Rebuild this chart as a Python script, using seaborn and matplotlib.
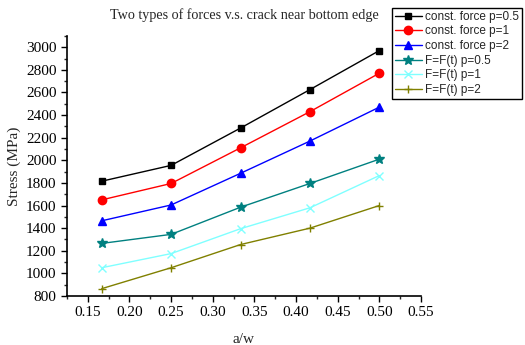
import matplotlib
matplotlib.use("Agg")
import matplotlib.pyplot as plt
import seaborn as sns
import pandas as pd
from matplotlib.ticker import MultipleLocator

x_vals = [1/6, 0.25, 1/3, 5/12, 0.5]
series_names = ["const. force p=0.5", "const. force p=1", "const. force p=2",
                "F=F(t) p=0.5", "F=F(t) p=1", "F=F(t) p=2"]
cf_p05 = [1815, 1955, 2285, 2625, 2970]
cf_p1 = [1650, 1795, 2110, 2430, 2770]
cf_p2 = [1465, 1605, 1885, 2170, 2470]
ft_p05 = [1265, 1345, 1585, 1795, 2010]
ft_p1 = [1050, 1175, 1395, 1580, 1865]
ft_p2 = [865, 1050, 1255, 1400, 1600]
all_vals = [cf_p05, cf_p1, cf_p2, ft_p05, ft_p1, ft_p2]

colors = ["#000000", "#ff0000", "#0000ff", "#008080", "#80ffff", "#808000"]
markers = ["s", "o", "^", "*", "x", "+"]
msizes = [5, 6, 6, 7, 6, 6]

rows = []
for name, vals in zip(series_names, all_vals):
    for xv, yv in zip(x_vals, vals):
        rows.append({"a/w": xv, "Stress": yv, "series": name})
df = pd.DataFrame(rows)

sns.set_style("ticks")
plt.rcParams["font.family"] = ["Liberation Serif", "DejaVu Serif"]

fig = plt.figure(figsize=(5.25, 3.45), dpi=100)
ax = fig.add_axes([0.1276, 0.142, 0.8019 - 0.1276, 0.896 - 0.142])

for name, c, m, ms in zip(series_names, colors, markers, msizes):
    sub = df[df["series"] == name]
    sns.lineplot(data=sub, x="a/w", y="Stress", ax=ax, color=c, marker=m,
                 markersize=ms, markeredgecolor=c, markerfacecolor=c,
                 markeredgewidth=1.0, linewidth=1.0, label=name, legend=False)

ax.set_xlim(0.125, 0.55)
ax.set_ylim(800, 3100)
ax.xaxis.set_minor_locator(MultipleLocator(0.025))
ax.yaxis.set_major_locator(MultipleLocator(200))
ax.yaxis.set_minor_locator(MultipleLocator(100))
ax.set_xticks([0.15, 0.2, 0.25, 0.3, 0.35, 0.4, 0.45, 0.5, 0.55])
ax.set_xticklabels(["0.15", "0.20", "0.25", "0.30", "0.35", "0.40", "0.45", "0.50", "0.55"])
ax.tick_params(axis="both", which="major", direction="out", length=4, width=1,
               labelsize=11, colors="black")
ax.tick_params(axis="both", which="minor", direction="out", length=2.5, width=1)
for s in ["top", "right"]:
    ax.spines[s].set_visible(False)
for s in ["left", "bottom"]:
    ax.spines[s].set_linewidth(1.2)
    ax.spines[s].set_color("black")

ax.set_xlabel("a/w", fontsize=11, labelpad=10)
ax.set_ylabel("Stress (MPa)", fontsize=11, labelpad=4)
ax.set_title("Two types of forces v.s. crack near bottom edge", fontsize=10.2, pad=12)

handles, labels = ax.get_legend_handles_labels()
leg = fig.legend(handles, labels, loc="upper left", bbox_to_anchor=(0.746, 0.977),
                 frameon=True, fancybox=False, edgecolor="black", framealpha=1,
                 prop={"family": "Liberation Sans", "size": 8.5},
                 handlelength=2.3, handletextpad=0.3, labelspacing=0.22,
                 borderpad=0.25, borderaxespad=0)
leg.get_frame().set_linewidth(1.0)

fig.savefig("out.png", dpi=100)
